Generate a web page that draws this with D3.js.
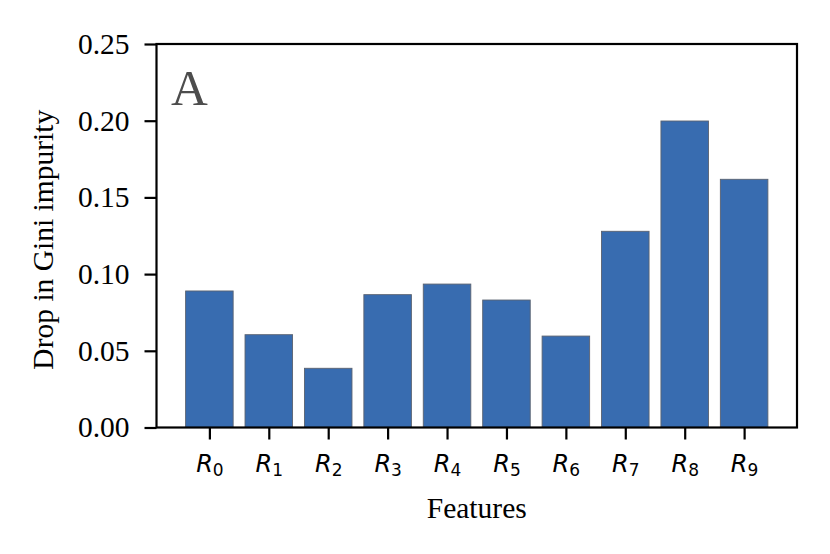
<!DOCTYPE html>
<html>
<head>
<meta charset="utf-8">
<script src="https://cdn.jsdelivr.net/npm/d3@7"></script>
<style>
  html, body { margin: 0; padding: 0; background: #fff; }
  svg { display: block; }
</style>
</head>
<body>
<svg id="chart" width="830" height="554"></svg>
<script>
const categories = ["0", "1", "2", "3", "4", "5", "6", "7", "8", "9"];
const values = [0.089, 0.0605, 0.0386, 0.0866, 0.0935, 0.0831, 0.0596, 0.1279, 0.1998, 0.1618];
const yTicks = [0.00, 0.05, 0.10, 0.15, 0.20, 0.25];
const yLabel = "Drop in Gini impurity";
const xLabel = "Features";
const panelLabel = "A";

const svg = d3.select("#chart");
const mLeft = 156.5, mRight = 797, mTop = 44, mBottom = 427.5;
const serif = "'Liberation Serif', 'Times New Roman', serif";
const fs = "29.5px";

const x = d3.scaleLinear().domain([-0.89, categories.length - 1 + 0.89]).range([mLeft, mRight]);
const y = d3.scaleLinear().domain([0, 0.25]).range([mBottom, mTop]);
const barW = 0.8;

// bars
svg.append("g").selectAll("rect").data(values).join("rect")
  .attr("x", (d, i) => x(i - barW / 2))
  .attr("width", (d, i) => x(i + barW / 2) - x(i - barW / 2))
  .attr("y", d => y(d))
  .attr("height", d => y(0) - y(d))
  .attr("fill", "#386cb0")
  .attr("stroke", "#5a6270")
  .attr("stroke-width", 0.9);

// frame
svg.append("rect")
  .attr("x", mLeft).attr("y", mTop)
  .attr("width", mRight - mLeft).attr("height", mBottom - mTop)
  .attr("fill", "none").attr("stroke", "#000").attr("stroke-width", 2.2);

// y axis
const yAxis = svg.append("g").attr("transform", `translate(${mLeft},0)`)
  .call(d3.axisLeft(y).tickValues(yTicks).tickFormat(d3.format(".2f")).tickSize(12).tickPadding(15));
yAxis.select(".domain").remove();
yAxis.selectAll(".tick line").attr("stroke", "#000").attr("stroke-width", 2.2);
yAxis.selectAll(".tick text")
  .attr("fill", "#000")
  .style("font-family", serif)
  .style("font-size", fs);

// x axis
const xAxis = svg.append("g").attr("transform", `translate(0,${mBottom})`)
  .call(d3.axisBottom(x).tickValues(d3.range(categories.length)).tickFormat(i => categories[i]).tickSize(12).tickPadding(12));
xAxis.select(".domain").remove();
xAxis.selectAll(".tick line").attr("stroke", "#000").attr("stroke-width", 2.2);
xAxis.selectAll(".tick text").each(function(i) {
  const t = d3.select(this);
  t.text(null)
    .attr("fill", "#000")
    .attr("dy", null)
    .attr("y", 44)
    .style("font-family", "'DejaVu Sans', sans-serif")
    .style("font-size", "24px");
  t.append("tspan").text("R").style("font-style", "italic");
  t.append("tspan").text(categories[i]).style("font-size", "17px").attr("dy", 4);
});

// axis labels
svg.append("text")
  .attr("x", (mLeft + mRight) / 2).attr("y", 518)
  .attr("text-anchor", "middle")
  .style("font-family", serif)
  .style("font-size", fs)
  .text(xLabel);

svg.append("text")
  .attr("transform", `translate(53,${(mTop + mBottom) / 2 + 4}) rotate(-90)`)
  .attr("text-anchor", "middle")
  .style("font-family", serif)
  .style("font-size", fs)
  .text(yLabel);

// panel label
svg.append("text")
  .attr("x", 171).attr("y", 105)
  .attr("fill", "#4d4d4d")
  .style("font-family", serif)
  .style("font-size", "51px")
  .text(panelLabel);
</script>
</body>
</html>
